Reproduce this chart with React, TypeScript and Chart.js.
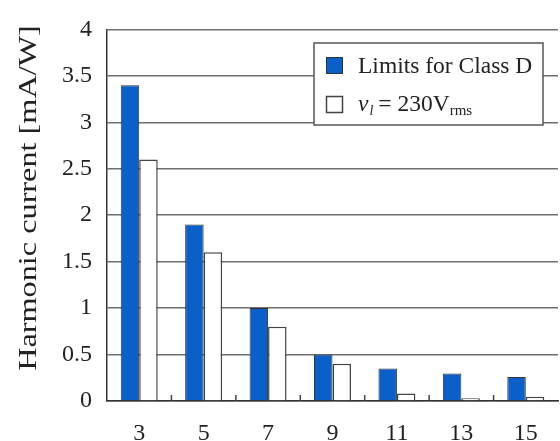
import React, { useEffect, useRef } from 'react';
import { Chart, registerables } from 'chart.js';
Chart.register(...registerables);

const harmonicOrders = ['3', '5', '7', '9', '11', '13', '15'];
const classDLimits = [3.4, 1.9, 1.0, 0.5, 0.35, 0.296, 0.257];
const measured230 = [2.6, 1.6, 0.8, 0.4, 0.08, 0.03, 0.045];
const yMin = 0;
const yMax = 4;
const yStep = 0.5;
const yTitle = 'Harmonic current [mA/W]';
const legendLabel1 = 'Limits for Class D';
const legendLabel2 = 'v_l = 230V_rms';

const BLUE = '#0a5fc8';
const FONT = "'Liberation Serif'";
const TEXT = '#222';

const boundaryTicks = {
  id: 'boundaryTicks',
  afterDatasetsDraw(chart: any) {
    const x = chart.scales.x;
    const area = chart.chartArea;
    const ctx = chart.ctx;
    const n = x.ticks.length;
    if (n < 2) return;
    const half = (x.getPixelForValue(1) - x.getPixelForValue(0)) / 2;
    ctx.save();
    ctx.strokeStyle = '#444';
    ctx.lineWidth = 1.5;
    for (let i = 1; i < n; i++) {
      const px = x.getPixelForValue(i) - half;
      ctx.beginPath();
      ctx.moveTo(px, area.bottom);
      ctx.lineTo(px, area.bottom - 6);
      ctx.stroke();
    }
    ctx.restore();
  },
};

const yTitlePlugin = {
  id: 'yTitlePlugin',
  afterDraw(chart: any) {
    const ctx = chart.ctx;
    ctx.save();
    ctx.translate(29, 198);
    ctx.rotate(-Math.PI / 2);
    ctx.scale(1.29, 1);
    ctx.fillStyle = TEXT;
    ctx.font = `25px ${FONT}`;
    ctx.textAlign = 'center';
    ctx.textBaseline = 'middle';
    ctx.fillText(yTitle, 0, 0);
    ctx.restore();
  },
};

const legendPlugin = {
  id: 'customLegend',
  afterDraw(chart: any) {
    const ctx = chart.ctx;
    ctx.save();
    const bx = 314, by = 43, bw = 229, bh = 82;
    ctx.fillStyle = '#fff';
    ctx.fillRect(bx, by, bw, bh);
    ctx.strokeStyle = '#555';
    ctx.lineWidth = 1.5;
    ctx.strokeRect(bx, by, bw, bh);

    ctx.fillStyle = BLUE;
    ctx.fillRect(326, 57, 17, 17);
    ctx.strokeStyle = '#333';
    ctx.lineWidth = 1;
    ctx.strokeRect(326.5, 57.5, 16, 16);

    ctx.fillStyle = '#fff';
    ctx.fillRect(326, 96, 17, 17);
    ctx.strokeStyle = '#444';
    ctx.lineWidth = 1.5;
    ctx.strokeRect(326.5, 96.5, 16, 16);

    ctx.fillStyle = TEXT;
    ctx.textAlign = 'left';
    ctx.textBaseline = 'alphabetic';
    ctx.font = `23.5px ${FONT}`;
    ctx.fillText(legendLabel1, 358, 73);

    const parts = legendLabel2.split(/[_=]/);
    // parts: ['v', 'l ', ' 230V', 'rms']
    let x = 358;
    const y = 111;
    ctx.font = `italic 23.5px ${FONT}`;
    ctx.fillText(parts[0], x, y);
    x += ctx.measureText(parts[0]).width;
    ctx.font = `italic 14px ${FONT}`;
    ctx.fillText(parts[1].trim(), x + 1, y + 4);
    x += ctx.measureText(parts[1].trim()).width + 6;
    ctx.font = `23.5px ${FONT}`;
    const main = '= ' + parts[2].trim();
    ctx.fillText(main, x, y);
    x += ctx.measureText(main).width;
    ctx.font = `15px ${FONT}`;
    ctx.fillText(parts[3], x, y + 4);
    ctx.restore();
  },
};

export default function App() {
  const ref = useRef<HTMLCanvasElement | null>(null);
  useEffect(() => {
    if (!ref.current) return;
    const chart = new Chart(ref.current, {
      type: 'bar',
      data: {
        labels: harmonicOrders,
        datasets: [
          {
            label: legendLabel1,
            data: classDLimits,
            backgroundColor: BLUE,
            borderColor: '#333',
            borderWidth: 1,
            categoryPercentage: 0.574,
            barPercentage: 1,
          },
          {
            label: legendLabel2,
            data: measured230,
            backgroundColor: '#fff',
            borderColor: '#444',
            borderWidth: 1.5,
            categoryPercentage: 0.574,
            barPercentage: 1,
          },
        ],
      },
      options: {
        responsive: false,
        animation: false,
        layout: { padding: { top: 13, right: 2, left: 0, bottom: 0 } },
        plugins: {
          legend: { display: false },
          tooltip: { enabled: false },
          title: { display: false },
        },
        scales: {
          x: {
            offset: true,
            grid: { display: false, drawTicks: false },
            border: { display: true, color: '#333', width: 1.5 },
            ticks: {
              color: TEXT,
              font: { family: FONT, size: 24 },
              padding: 18,
              maxRotation: 0,
            },
            afterFit(scale: any) {
              scale.height = 40;
            },
          },
          y: {
            min: yMin,
            max: yMax,
            grid: { color: '#6f6f6f', lineWidth: 1.5, drawTicks: false },
            border: { display: true, color: '#333', width: 1.5 },
            ticks: {
              stepSize: yStep,
              color: TEXT,
              font: { family: FONT, size: 24 },
              padding: 15,
              callback: (v: any) => String(Number(v)),
            },
            afterFit(scale: any) {
              scale.width = 107;
            },
          },
        },
      },
      plugins: [boundaryTicks, yTitlePlugin, legendPlugin],
    });
    return () => chart.destroy();
  }, []);
  return (
    <div style={{ position: 'fixed', left: 0, top: 0, width: 560, height: 441, background: '#fff' }}>
      <canvas ref={ref} width={560} height={441} />
    </div>
  );
}
